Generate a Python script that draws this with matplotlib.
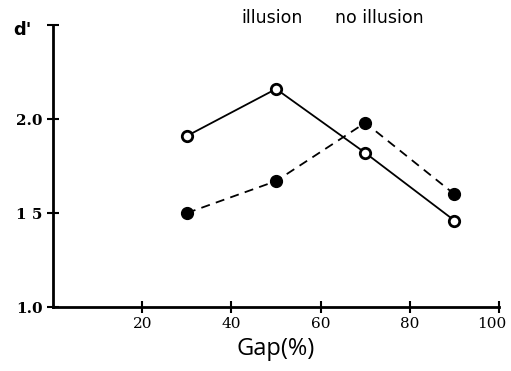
import matplotlib
matplotlib.use("Agg")
import matplotlib.pyplot as plt
import matplotlib.transforms as mtrans

gap = [30, 50, 70, 90]
illusion = [1.91, 2.16, 1.82, 1.46]
no_illusion = [1.50, 1.67, 1.98, 1.60]
xticks = [20, 40, 60, 80, 100]
yticks = [1.0, 1.5, 2.0]
ytick_labels = ["1.0", "1 5", "2.0"]

fig = plt.figure(figsize=(5.11, 3.71), dpi=100)
ax = fig.add_axes([0.104, 0.1725, 0.8725, 0.76])

ax.plot(gap, illusion, color="black", lw=1.3, ls="-", marker="o", ms=7.5,
        mfc="white", mec="black", mew=2.0, zorder=3)
ax.plot(gap, no_illusion, color="black", lw=1.3, ls=(0, (5, 3.5)), marker="o", ms=8.5,
        mfc="black", mec="black", zorder=3)

ax.set_xlim(0, 100)
ax.set_ylim(1.0, 2.5)
for s in ["top", "right"]:
    ax.spines[s].set_visible(False)
ax.spines["left"].set_linewidth(2)
ax.spines["bottom"].set_linewidth(2)

ax.set_xticks(xticks)
ax.set_xticklabels([str(v) for v in xticks], family="DejaVu Serif", fontsize=11)
ax.set_yticks(yticks + [2.5])
ax.set_yticklabels(ytick_labels + [""], family="DejaVu Serif", fontsize=11, fontweight="bold")
ax.tick_params(axis="x", direction="inout", length=9, width=1.5, pad=3)
ax.tick_params(axis="y", direction="inout", length=9, width=1.5, pad=3)

# keep the last x label inside the canvas
last = ax.get_xticklabels()[-1]
last.set_transform(last.get_transform() + mtrans.ScaledTranslation(-7 / 100, 0, fig.dpi_scale_trans))

ax.set_xlabel("Gap(%)", family="Open Sans", fontsize=17, labelpad=4)
fig.text(0.025, 0.918, "d'", family="DejaVu Sans", fontsize=13, fontweight="bold", va="center")

fig.text(0.532, 0.952, "illusion", family="DejaVu Sans", fontsize=12.5, ha="center", va="center")
fig.text(0.743, 0.952, "no illusion", family="DejaVu Sans", fontsize=12.5, ha="center", va="center")

fig.savefig("out.png", dpi=100)
